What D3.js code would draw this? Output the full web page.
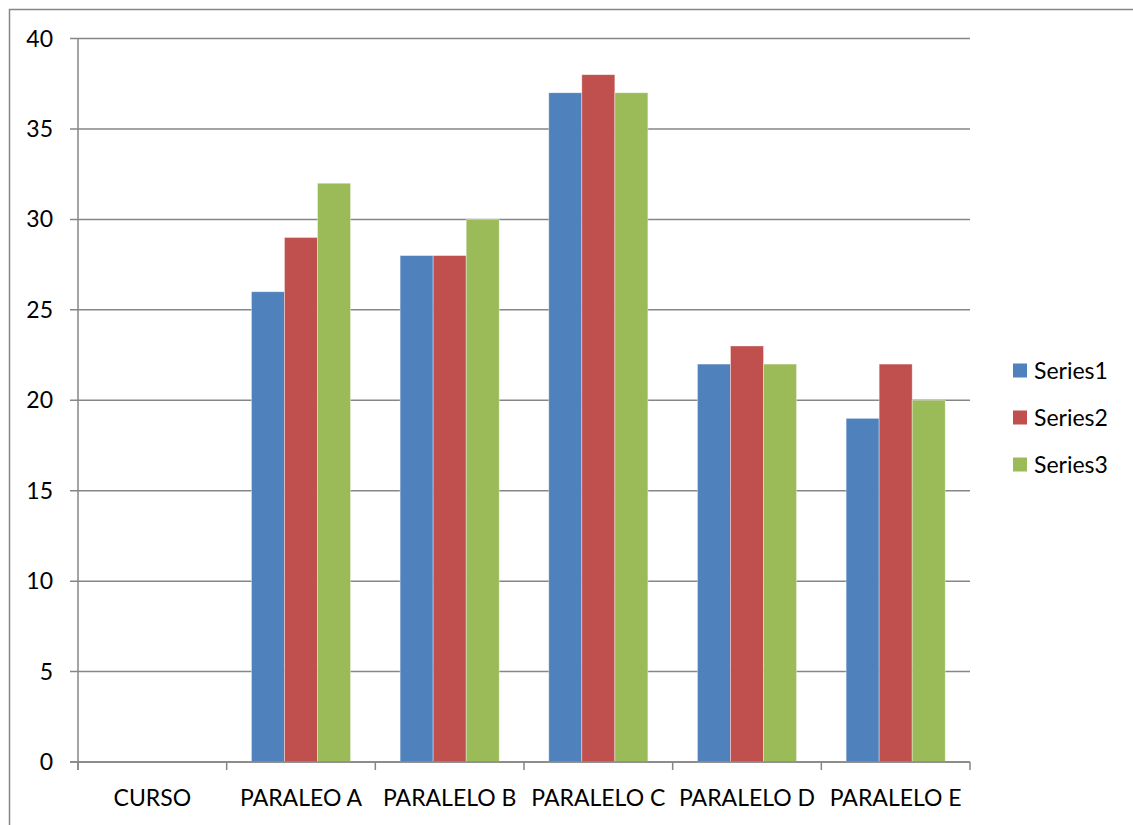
<!DOCTYPE html>
<html><head><meta charset="utf-8">
<script src="https://cdn.jsdelivr.net/npm/d3@7"></script>
<style>body{margin:0;background:#fff}svg{display:block}text{font-family:Lato,"Open Sans",sans-serif;fill:#000}</style>
</head><body><svg id="c" width="1133" height="825"></svg>
<script>
const categories = ["CURSO","PARALEO A","PARALELO B","PARALELO C","PARALELO D","PARALELO E"];
const seriesNames = ["Series1","Series2","Series3"];
const series1 = [null,26,28,37,22,19];
const series2 = [null,29,28,38,23,22];
const series3 = [null,32,30,37,22,20];
const yTicks = [0,5,10,15,20,25,30,35,40];
const colors = ["#4F81BD","#C0504D","#9BBB59"];

const FS = 23;
const svg = d3.select("#c");
const L = 78, R = 970, T = 38.5, B = 762;
svg.append("rect").attr("x",9.5).attr("y",9.5).attr("width",1140).attr("height",830)
  .attr("fill","#fff").attr("stroke","#868686").attr("stroke-width",1.5);

const x = d3.scaleBand().domain(categories).range([L,R]);
const y = d3.scaleLinear().domain([0,40]).range([B,T]);
const inner = d3.scaleBand().domain(seriesNames).range([0,x.bandwidth()]).paddingOuter(0.75).paddingInner(0);

svg.append("g").selectAll("line").data(yTicks).join("line")
  .attr("x1",L-8).attr("x2",R).attr("y1",d=>y(d)).attr("y2",d=>y(d))
  .attr("stroke","#868686").attr("stroke-width",1.5);
svg.append("g").selectAll("text").data(yTicks).join("text")
  .attr("x",53).attr("y",d=>y(d)).attr("dy","0.35em").attr("text-anchor","end")
  .attr("font-size",FS).text(d=>d);
svg.append("line").attr("x1",L).attr("x2",L).attr("y1",T).attr("y2",B+8).attr("stroke","#868686").attr("stroke-width",1.5);
const xt = categories.map(c=>x(c)).concat([R]);
svg.append("g").selectAll("line").data(xt).join("line")
  .attr("x1",d=>d).attr("x2",d=>d).attr("y1",B).attr("y2",B+8)
  .attr("stroke","#868686").attr("stroke-width",1.5);
svg.append("g").selectAll("text").data(categories).join("text")
  .attr("x",d=>x(d)+x.bandwidth()/2).attr("y",798).attr("dy","0.35em").attr("text-anchor","middle")
  .attr("font-size",FS).text(d=>d);

const all = [series1,series2,series3];
all.forEach((s,i)=>{
  svg.append("g").selectAll("rect").data(categories.map((c,j)=>({c,v:s[j]})).filter(d=>d.v!=null)).join("rect")
    .attr("x",d=>x(d.c)+inner(seriesNames[i]))
    .attr("width",inner.bandwidth())
    .attr("y",d=>y(d.v)).attr("height",d=>y(0)-y(d.v))
    .attr("fill",colors[i]).attr("stroke","rgba(255,255,255,0.5)").attr("stroke-width",0.75);
});
svg.append("line").attr("x1",L-8).attr("x2",R).attr("y1",B).attr("y2",B).attr("stroke","#868686").attr("stroke-width",1.5);

const lg = svg.append("g");
seriesNames.forEach((n,i)=>{
  const cy = 371 + i*47;
  lg.append("rect").attr("x",1013).attr("y",cy-7.5).attr("width",14).attr("height",14).attr("fill",colors[i]);
  lg.append("text").attr("x",1034).attr("y",cy).attr("dy","0.35em").attr("font-size",FS).text(n);
});
</script></body></html>
